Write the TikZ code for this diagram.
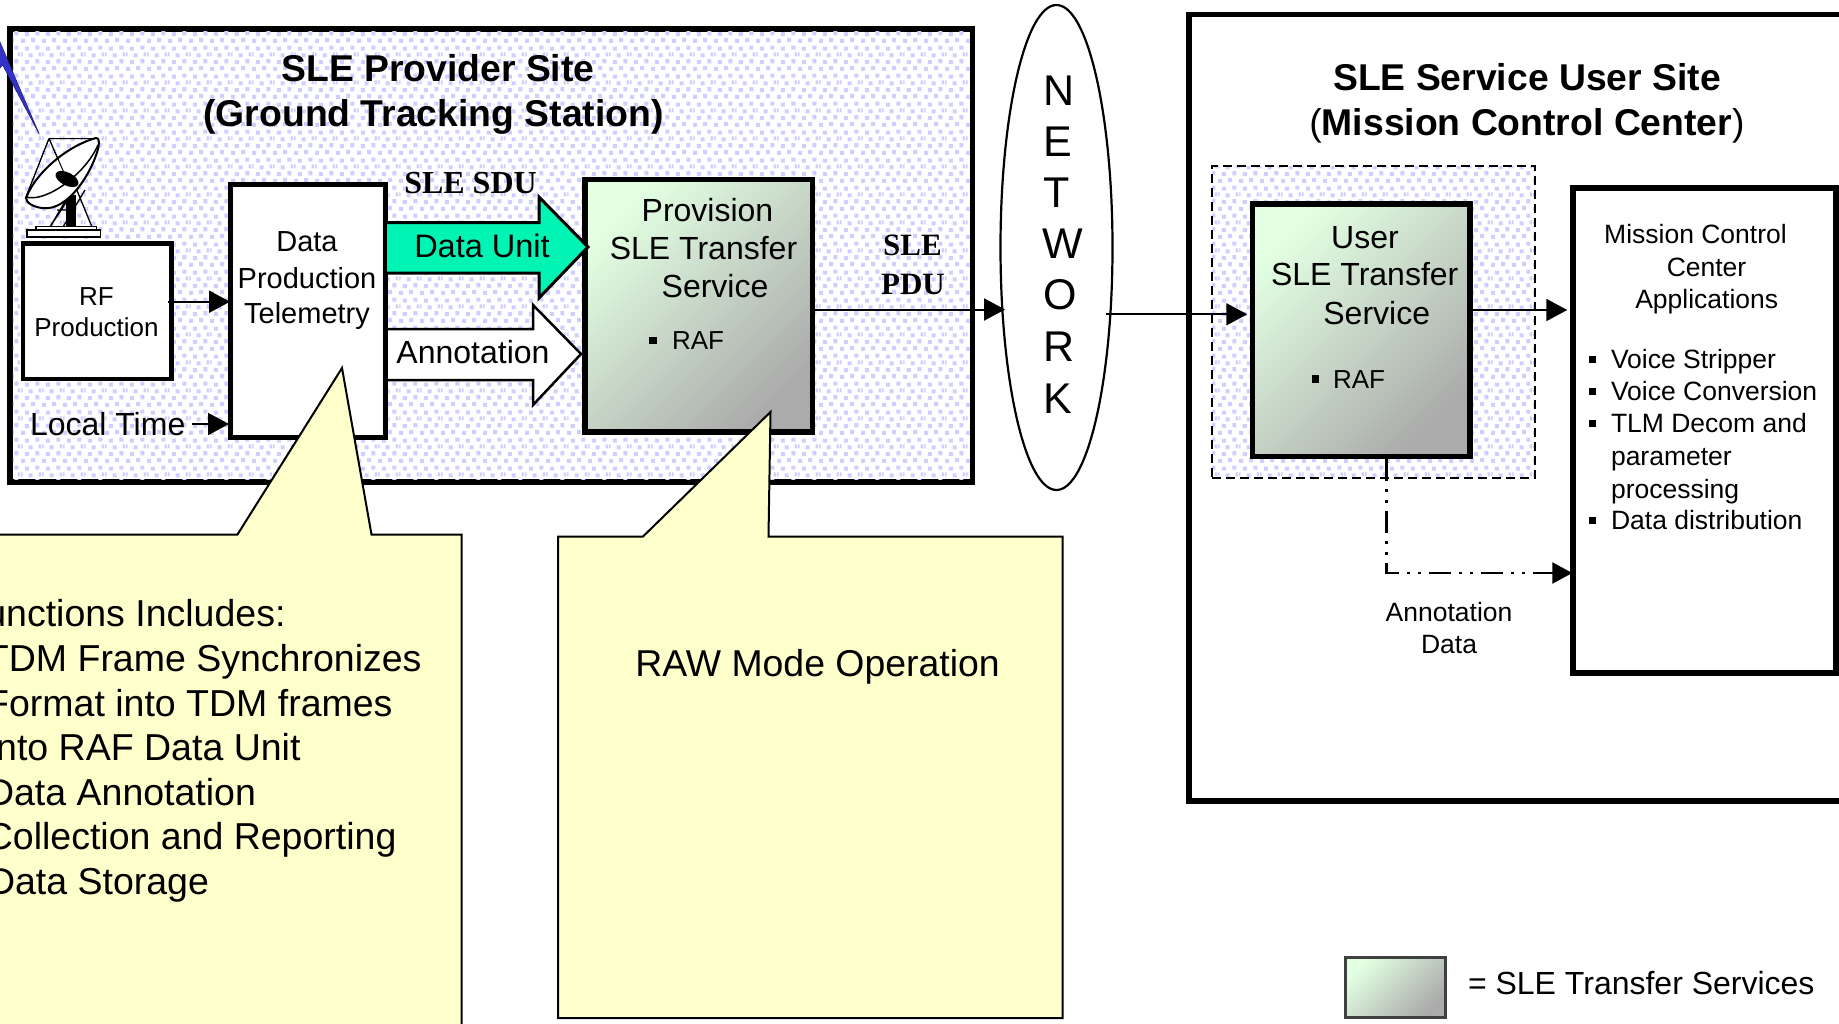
\documentclass[tikz,border=0pt]{standalone}
\usepackage{fontspec}
\setmainfont{Liberation Sans}
\newfontfamily\serifbold{Liberation Serif}[BoldFont={Liberation Serif Bold}]
\usetikzlibrary{arrows.meta,patterns,shapes.geometric}
\newcommand\fz[1]{\fontsize{#1}{#1}\selectfont}
\pgfdeclarepatternformonly{sledots}{\pgfqpoint{0pt}{0pt}}{\pgfqpoint{21pt}{28pt}}{\pgfqpoint{21pt}{28pt}}{%
  \pgfpathrectangle{\pgfqpoint{0pt}{0pt}}{\pgfqpoint{4.2pt}{4.2pt}}
  \pgfpathrectangle{\pgfqpoint{10.5pt}{1pt}}{\pgfqpoint{4.2pt}{4.2pt}}
  \pgfpathrectangle{\pgfqpoint{4pt}{7pt}}{\pgfqpoint{4.2pt}{4.2pt}}
  \pgfpathrectangle{\pgfqpoint{15pt}{8pt}}{\pgfqpoint{4.2pt}{4.2pt}}
  \pgfpathrectangle{\pgfqpoint{8pt}{14pt}}{\pgfqpoint{4.2pt}{4.2pt}}
  \pgfpathrectangle{\pgfqpoint{18.5pt}{15pt}}{\pgfqpoint{2.5pt}{4.2pt}}
  \pgfpathrectangle{\pgfqpoint{0pt}{15pt}}{\pgfqpoint{1.7pt}{4.2pt}}
  \pgfpathrectangle{\pgfqpoint{4pt}{21pt}}{\pgfqpoint{4.2pt}{4.2pt}}
  \pgfpathrectangle{\pgfqpoint{15pt}{22pt}}{\pgfqpoint{4.2pt}{4.2pt}}
  \pgfusepath{fill}}
\definecolor{dotblue}{HTML}{CFCFFF}
\definecolor{callout}{HTML}{FFFFCC}
\definecolor{unitgreen}{HTML}{00F4B4}
\definecolor{boltblue}{HTML}{3333CC}
\definecolor{gradA}{HTML}{E2FFE2}
\definecolor{gradB}{HTML}{ABABAB}
\tikzset{
  x=1pt,y=-1pt,
  lbl/.style={anchor=base,inner sep=0pt,outer sep=0pt,text=black},
  lblw/.style={anchor=base west,inner sep=0pt,outer sep=0pt,text=black},
  lble/.style={anchor=base east,inner sep=0pt,outer sep=0pt,text=black},
  plainbox/.style={draw=black,fill=white,line width=#1,inner sep=0pt,minimum width=0pt,minimum height=0pt},
  plainbox/.default=5pt,
  transferbox/.style={draw=black,line width=5.5pt,inner sep=0pt,shading=axis,top color=gradA,bottom color=gradB,shading angle=45},
  dotted fill/.style={pattern=sledots,pattern color=dotblue},
  conn/.style={draw=black,line width=2pt,-{Triangle[length=21pt,width=22pt]}},
  bigarrow/.style={line join=miter,miter limit=10},
  callbox/.style={draw=black,fill=callout,line width=2pt,line join=miter},
  bullet/.style={fill=black,inner sep=0pt,minimum size=7.5pt,draw=none},
  lattice/.style={draw=black,line width=1.3pt}
}
\begin{document}
\begin{tikzpicture}
\useasboundingbox (0,0) rectangle (1839,1023);
\clip (0,0) rectangle (1839,1023);
\fill[white] (0,0) rectangle (1839,1023);

% provider site
\node[draw=black,line width=5.5pt,inner sep=0pt,fill=white,minimum width=962.5pt,minimum height=453pt,outer sep=0pt] (prov) at (491.25,255.5) {};
\fill[dotted fill] (12.75,31.75) rectangle (969.75,479.25);

% service user site
\node[plainbox=5.5pt,minimum width=680pt,minimum height=786.5pt] (usersite) at (1529,407.75) {};

% dashed user area
\fill[white] (1212,166) rectangle (1535,478);
\fill[dotted fill] (1212,166) rectangle (1535,478);
\node[draw=black,line width=2.5pt,dash pattern=on 9pt off 5pt,inner sep=0pt,minimum width=323pt,minimum height=312pt] (dash) at (1373.5,322) {};

% network
\node[draw=black,fill=white,line width=2.2pt,ellipse,inner sep=0pt,minimum width=112pt,minimum height=485pt] (net) at (1056.5,247.5) {};
\node[lblw,font=\fz{43}] (netN) at (1043.5,105) {N};
\node[lblw,font=\fz{43}] (netE) at (1043.5,156) {E};
\node[lblw,font=\fz{43}] (netT) at (1043,207) {T};
\node[lblw,font=\fz{43}] (netW) at (1042,258) {W};
\node[lblw,font=\fz{43}] (netO) at (1043,309) {O};
\node[lblw,font=\fz{43}] (netR) at (1043.5,361) {R};
\node[lblw,font=\fz{43}] (netK) at (1043.5,413) {K};

% lightning
\path[fill=boltblue,draw=boltblue!60!black,line width=0.6pt,line join=miter] (-3,35) -- (39.3,134.3) -- (2.7,65) -- (-3,71) -- cycle;

% dish
\draw[lattice] (50,227) -- (66,200) (92,227) -- (76,188) (85,190) -- (63,227) (57,210) -- (74,210) (50,227) -- (71,195);
\fill[black] (65.5,195) rectangle (76,227);
\draw[line width=1pt,black] (49,138.5) -- (98,138.5) (49,138.5) -- (26,197) (49,138.5) -- (65,175);
\path[fill=white,draw=black,line width=2pt] (26,198) .. controls (37,170) and (70,145) .. (96,138) .. controls (100,137) and (99,146) .. (98,149) .. controls (92,172) and (68,212) .. (42,208) .. controls (34,207) and (26,203) .. (26,198) -- cycle;
\draw[line width=1.5pt,black] (26,197) .. controls (45,203) and (85,175) .. (98,145);
\draw[line width=1pt,black] (49,138.5) -- (26,197) (49,138.5) -- (65,175);
\fill[black,rotate around={-27:(67,179)}] (67,179) ellipse [x radius=12.5,y radius=6.5];
\path[fill=white,draw=black,line width=1.3pt] (36,226.5) rectangle (96.5,230);
\path[fill=white,draw=black,line width=1.5pt] (27,230) rectangle (100.5,237);

% RF, data production
\node[plainbox=4.5pt,minimum width=148.5pt,minimum height=135.5pt] (rf) at (97.25,311.25) {};
\node[plainbox=5pt,minimum width=155pt,minimum height=253pt] (tel) at (308,311) {};
\node[lbl,font=\fz{26}] (rf1) at (96.5,305) {RF};
\node[lbl,font=\fz{26}] (rf2) at (96.5,336.5) {Production};
\node[lbl,font=\fz{29}] (tel1) at (307,251.5) {Data};
\node[lbl,font=\fz{29}] (tel2) at (307,288) {Production};
\node[lbl,font=\fz{29}] (tel3) at (307,323) {Telemetry};
\node[lblw,font=\fz{32}] (ltime) at (30,435) {Local Time};

% provision
\node[transferbox,minimum width=227.5pt,minimum height=252.5pt] (pvs) at (698.75,305.75) {};
\node[lbl,font=\fz{32}] (pvs1) at (707.5,221) {Provision};
\node[lbl,font=\fz{32}] (pvs2) at (703.5,259) {SLE Transfer};
\node[lbl,font=\fz{32}] (pvs3) at (715,297) {Service};
\node[bullet] (pvsb) at (653,340.5) {};
\node[lblw,font=\fz{26}] (pvsr) at (672,349) {RAF};

% block arrows
\path[bigarrow,fill=unitgreen,draw=black,line width=3pt] (387,222.5) -- (539,222.5) -- (539,197) -- (588,247) -- (539,298) -- (539,273) -- (387,273);
\path[bigarrow,fill=white,draw=black,line width=2.5pt] (388,329) -- (533,329) -- (533,305) -- (581,354) -- (533,405) -- (533,380) -- (388,380);
\node[lbl,font=\fz{32.5}] (du) at (482,257.5) {Data Unit};
\node[lbl,font=\fz{32}] (ann) at (473,363.5) {Annotation};
\node[lbl,font=\serifbold\bfseries\fz{32}] (sdu) at (470.5,193) {SLE SDU};

\node[lbl,font=\serifbold\bfseries\fz{31}] (pdu1) at (912.5,255.5) {SLE};
\node[lbl,font=\serifbold\bfseries\fz{31}] (pdu2) at (913,294) {PDU};

% user
\node[transferbox,minimum width=217.5pt,minimum height=252.5pt] (usr) at (1361.25,330.25) {};
\node[lbl,font=\fz{32}] (usr1) at (1365,248) {User};
\node[lbl,font=\fz{32}] (usr2) at (1364.7,285.5) {SLE Transfer};
\node[lbl,font=\fz{32}] (usr3) at (1376.7,324.5) {Service};
\node[bullet] (usrb) at (1315.5,379) {};
\node[lblw,font=\fz{26}] (usrr) at (1333,388) {RAF};

% mission
\node[plainbox=5.5pt,minimum width=263pt,minimum height=485pt] (mis) at (1704.5,430.5) {};
\node[lbl,font=\fz{26.5}] (m1) at (1695.5,243) {Mission Control};
\node[lbl,font=\fz{26.5}] (m2) at (1706.5,276) {Center};
\node[lbl,font=\fz{26.5}] (m3) at (1706.7,308) {Applications};
\node[bullet,minimum size=7pt] (mb1) at (1592.5,359.5) {};
\node[lblw,font=\fz{26.5}] (m4) at (1611,368) {Voice Stripper};
\node[bullet,minimum size=7pt] (mb2) at (1592.5,391.5) {};
\node[lblw,font=\fz{26.5}] (m5) at (1611,400.5) {Voice Conversion};
\node[bullet,minimum size=7pt] (mb3) at (1592.5,423) {};
\node[lblw,font=\fz{26.5}] (m6) at (1611,432) {TLM Decom and};
\node[lblw,font=\fz{26.5}] (m7) at (1611,465) {parameter};
\node[lblw,font=\fz{26.5}] (m8) at (1611,498) {processing};
\node[bullet,minimum size=7pt] (mb4) at (1592.5,520) {};
\node[lblw,font=\fz{26.5}] (m9) at (1611,529) {Data distribution};

\node[lbl,font=\fz{26.5}] (an1) at (1449,621) {Annotation};
\node[lbl,font=\fz{26.5}] (an2) at (1449,653) {Data};

% titles
\node[lbl,font=\bfseries\fz{37.3}] (t1) at (438,81) {SLE Provider Site};
\node[lbl,font=\bfseries\fz{37.3}] (t2) at (433.5,126) {(Ground Tracking Station)};
\node[lbl,font=\bfseries\fz{37.3}] (t3) at (1527,90) {SLE Service User Site};
\node[lbl,font=\fz{37.3}] (t4) at (1527,135) {(\textbf{Mission Control Center})};

% connectors
\coordinate (ca) at (168,301.7);
\coordinate (cb) at (192,424);
\coordinate (cc) at (1005,309.5);
\coordinate (cd) at (1106,314.3);
\coordinate (ce) at (1470,310);
\coordinate (cf) at (1386.7,573);
\draw[conn,shorten >=-2pt] (ca) -- (tel.west |- ca);
\draw[conn,shorten >=-1pt] (cb) -- (tel.west |- cb);
\draw[conn] (pvs.east |- cc) -- (cc);
\draw[conn,shorten >=2.5pt] (cd) -- (usr.west |- cd);
\draw[conn,shorten >=3pt] (ce) -- (mis.west |- ce);
\draw[draw=black,line width=2.5pt,dash pattern=on 22pt off 8pt on 3pt off 8pt on 3pt off 8pt,-{Triangle[length=20pt,width=21pt]},shorten >=-2pt] (usr.south -| cf) -- (cf) -- (mis.west |- cf);

% callouts
\path[callbox] (-10,534.5) -- (237.5,534.5) -- (342,368) -- (371.5,534.5) -- (461.7,534.5) -- (461.7,1035) -- (-10,1035) -- cycle;
\node[lble,font=\fz{37.5}] (c1) at (285.5,626) {unctions Includes:};
\node[lble,font=\fz{37.5}] (c2) at (421.5,671) {TDM Frame Synchronizes};
\node[lble,font=\fz{37.5}] (c3) at (392.5,716) {Format into TDM frames};
\node[lble,font=\fz{37.5}] (c4) at (300.5,760) {nto RAF Data Unit};
\node[lble,font=\fz{37.5}] (c5) at (256,805) {Data Annotation};
\node[lble,font=\fz{37.5}] (c6) at (396.5,849) {Collection and Reporting};
\node[lble,font=\fz{37.5}] (c7) at (209,894) {Data Storage};

\path[callbox] (558,536.5) -- (643,536.5) -- (770.5,412) -- (768.5,536.5) -- (1062.5,536.5) -- (1062.5,1018) -- (558,1018) -- cycle;
\node[lbl,font=\fz{37.4}] (raw) at (817.5,676) {RAW Mode Operation};

% legend
\node[draw=black!75,line width=3pt,inner sep=0pt,shading=axis,top color=gradA,bottom color=gradB,shading angle=45,minimum width=100pt,minimum height=60pt] (leg) at (1395.5,987) {};
\node[lblw,font=\fz{32}] (legt) at (1468,994) {= SLE Transfer Services};
\end{tikzpicture}
\end{document}
